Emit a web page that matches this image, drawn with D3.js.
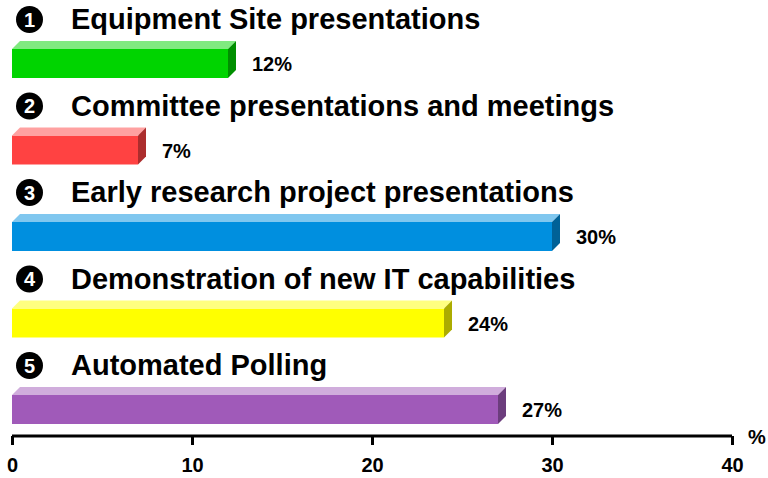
<!DOCTYPE html>
<html>
<head>
<meta charset="utf-8">
<script src="https://cdn.jsdelivr.net/npm/d3@7"></script>
<style>
  body { margin: 0; background: #fff; }
  text { font-family: "Liberation Sans", Arial, sans-serif; font-weight: bold; }
</style>
</head>
<body>
<div id="chart"></div>
<script>
(function () {

  // data
  var categories = [
    "Equipment Site presentations",
    "Committee presentations and meetings",
    "Early research project presentations",
    "Demonstration of new IT capabilities",
    "Automated Polling"
  ]
  var values = [12, 7, 30, 24, 27]
  var colors = ["#00d400", "#ff4242", "#008fdf", "#ffff00", "#a05ab9"]
  var tickValues = [0, 10, 20, 30, 40]

  var width = 768, height = 478
  var depth = 8, barH = 29

  var svg = d3.select("#chart").append("svg")
    .attr("width", width)
    .attr("height", height)

  var xScale = d3.scaleLinear().domain([0, 40]).range([12, 732])
  // y of the front face top for each row
  var yScale = d3.scalePoint().domain(categories).range([49, 395])

  var rows = svg.selectAll(".row")
    .data(categories)
    .enter().append("g")
    .attr("class", "row")

  // numbered circle
  rows.append("circle")
    .attr("cx", 29.5)
    .attr("cy", function (d) { return yScale(d) - 29.5 })
    .attr("r", 13.5)
    .attr("fill", "#000")

  rows.append("text")
    .attr("x", 29.5)
    .attr("y", function (d) { return yScale(d) - 29.5 })
    .attr("dy", "0.36em")
    .attr("text-anchor", "middle")
    .attr("font-size", 20)
    .attr("fill", "#fff")
    .text(function (d, i) { return i + 1 })

  rows.append("text")
    .attr("x", 71)
    .attr("y", function (d) { return yScale(d) - 20 })
    .attr("font-size", 29)
    .attr("fill", "#000")
    .text(function (d) { return d })

  // bars, drawn as three faces
  rows.each(function (d, i) {
    var g = d3.select(this)
    var x0 = xScale(0), x1 = xScale(values[i])
    var y0 = yScale(d), y1 = y0 + barH
    var c = d3.color(colors[i])
    var top = d3.interpolateRgb(colors[i], "#fff")(0.5)
    var side = c.darker(1.1)

    g.append("rect")
      .attr("x", x0)
      .attr("y", y0)
      .attr("width", x1 - x0)
      .attr("height", barH)
      .attr("fill", colors[i])

    g.append("path")
      .attr("d", "M" + x0 + "," + y0 + "L" + x1 + "," + y0 + "L" + (x1 + depth) + "," + (y0 - depth) +
        "L" + (x0 + depth) + "," + (y0 - depth) + "Z")
      .attr("fill", top)

    g.append("path")
      .attr("d", "M" + x1 + "," + y0 + "L" + x1 + "," + y1 + "L" + (x1 + depth) + "," + (y1 - depth) +
        "L" + (x1 + depth) + "," + (y0 - depth) + "Z")
      .attr("fill", side)

    g.append("text")
      .attr("x", x1 + 24)
      .attr("y", y0 + 22)
      .attr("font-size", 20)
      .attr("fill", "#000")
      .text(values[i] + "%")
  })

  // axis
  var xAxis = d3.axisBottom(xScale)
    .tickValues(tickValues)
    .tickSize(9)
    .tickPadding(13)

  var axis = svg.append("g")
    .attr("class", "axis x-axis")
    .attr("transform", "translate(0,436)")
    .call(xAxis)

  axis.select(".domain")
    .attr("d", "M" + xScale(0) + ",0H" + xScale(40))
    .attr("stroke", "#000")
    .attr("stroke-width", 3)
  axis.selectAll(".tick line")
    .attr("stroke", "#000")
    .attr("stroke-width", 3)
  axis.selectAll(".tick text")
    .attr("font-size", 20)
    .attr("font-family", "Liberation Sans, Arial, sans-serif")
    .attr("font-weight", "bold")
    .attr("fill", "#000")

  svg.append("text")
    .attr("x", 748)
    .attr("y", 444)
    .attr("font-size", 20)
    .attr("fill", "#000")
    .text("%")

})()
</script>
</body>
</html>
